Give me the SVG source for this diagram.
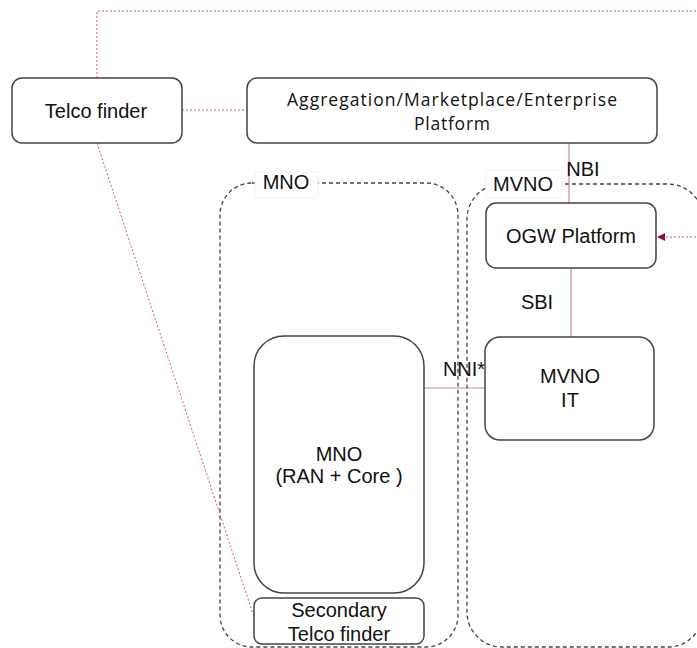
<svg xmlns="http://www.w3.org/2000/svg" width="697" height="648" viewBox="0 0 697 648">
<style>
.box{fill:#fff;stroke:#444;stroke-width:1.5}
.grp{fill:none;stroke:#444;stroke-width:1.3;stroke-dasharray:4 3}
.lbl{fill:#fff;stroke:#f2f2f2;stroke-width:1}
.t{font-family:"Liberation Sans",Arial,sans-serif;font-size:20px;fill:#111;text-anchor:middle}
.ts{font-family:"Open Sans","Noto Sans",sans-serif;font-size:17.5px;fill:#111;text-anchor:middle}
.dot{fill:none;stroke:#c4607c;stroke-width:1;stroke-dasharray:2 2}
.sol{fill:none;stroke:#c88a9a;stroke-width:1.2}
</style>
<defs>
<marker id="arr" markerWidth="8" markerHeight="8" refX="7" refY="4" orient="auto" markerUnits="userSpaceOnUse">
<path d="M0,0 L8,4 L0,8 z" fill="#8a1538"/>
</marker>
</defs>
<g id="group-mno">
<rect class="grp" x="220" y="183" width="238" height="464" rx="32"/>
<rect class="lbl" x="255" y="172" width="63" height="26"/>
<text class="t" x="286" y="189">MNO</text>
</g>
<g id="group-mvno">
<rect class="grp" x="467" y="184" width="236" height="463" rx="35"/>
<rect class="lbl" x="486" y="170" width="76" height="28"/>
<text class="t" x="523" y="191">MVNO</text>
</g>
<g id="connectors">
<path class="dot" d="M97,78 V11 H720 V237 H658" marker-end="url(#arr)"/>
<path class="dot" d="M182,110 H247"/>
<path class="dot" d="M97,143 L255,620"/>
<path class="sol" d="M569,143 V203"/>
<path class="sol" d="M571,268 V337"/>
<path class="sol" d="M424,388 H485"/>
<text class="t" x="583" y="176">NBI</text>
<text class="t" x="537" y="309">SBI</text>
<text class="t" x="464" y="376">NNI*</text>
</g>
<g id="telco-finder">
<rect class="box" x="12" y="78" width="170" height="65" rx="10"/>
<text class="t" x="96" y="118">Telco finder</text>
</g>
<g id="aggregation">
<rect class="box" x="247" y="78" width="410" height="65" rx="10"/>
<text class="ts" x="452" y="106" textLength="330" lengthAdjust="spacing">Aggregation/Marketplace/Enterprise</text>
<text class="ts" x="452" y="130" textLength="76" lengthAdjust="spacing">Platform</text>
</g>
<g id="ogw">
<rect class="box" x="486" y="203" width="170" height="65" rx="10"/>
<text class="t" x="571" y="243">OGW Platform</text>
</g>
<g id="mvno-it">
<rect class="box" x="485" y="337" width="169" height="103" rx="15"/>
<text class="t" x="570" y="383">MVNO</text>
<text class="t" x="570" y="407">IT</text>
</g>
<g id="mno-core">
<rect class="box" x="254" y="336" width="170" height="257" rx="30"/>
<text class="t" x="339" y="461">MNO</text>
<text class="t" x="339" y="483">(RAN + Core )</text>
</g>
<g id="secondary-telco-finder">
<rect class="box" x="254" y="598" width="170" height="46" rx="8"/>
<text class="t" x="339" y="617">Secondary</text>
<text class="t" x="339" y="641">Telco finder</text>
</g>
</svg>
